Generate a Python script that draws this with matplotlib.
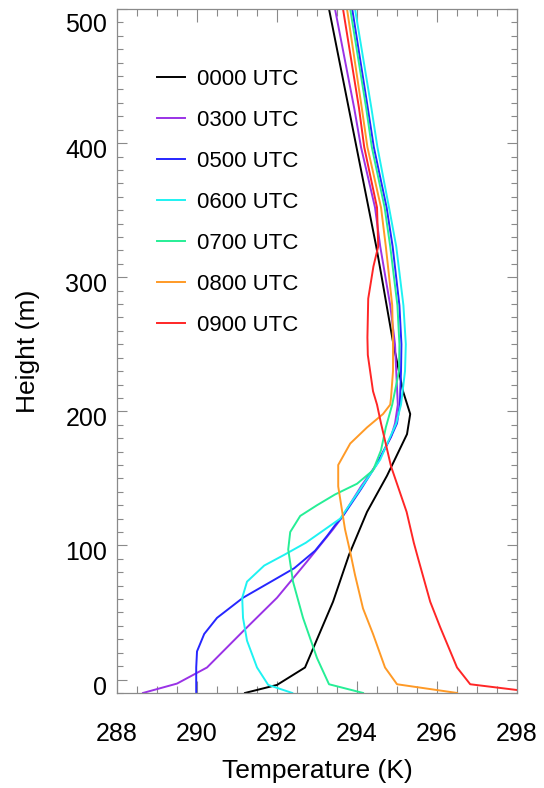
import matplotlib
matplotlib.use('Agg')
import matplotlib.pyplot as plt
import matplotlib.transforms as mtrans
from matplotlib.ticker import MultipleLocator

plt.rcParams['font.family'] = ['Liberation Sans', 'DejaVu Sans']

# temperature profiles (K) against height (m), one pair per launch time
z_0000 = [-10, -4, 9, 23, 58, 93, 125, 152, 183, 198, 215, 250, 279, 303, 323, 500]
t_0000 = [291.2, 292.0, 292.7, 292.9, 293.4, 293.8, 294.25, 294.75, 295.25, 295.33,
          295.15, 294.91, 294.74, 294.6, 294.48, 293.3]

z_0300 = [-10, -3, 9, 36, 61, 88, 112, 120, 144, 161, 181, 191, 205, 230, 250, 279,
          323, 352, 397, 426, 500]
t_0300 = [288.65, 289.5, 290.25, 291.15, 292.0, 292.75, 293.4, 293.6, 294.1, 294.5,
          294.85, 294.95, 295.02, 294.98, 294.95, 294.83, 294.58, 294.45, 294.1, 293.93,
          293.45]

z_0500 = [-10, 9, 21, 34, 46, 61, 73, 83, 96, 107, 115, 122, 142, 161, 181, 191, 205,
          230, 250, 279, 323, 352, 397, 426, 500]
t_0500 = [289.98, 289.98, 290.0, 290.18, 290.5, 291.15, 291.85, 292.43, 292.95, 293.25,
          293.45, 293.65, 294.1, 294.5, 294.85, 295.0, 295.07, 295.1, 295.11, 295.06,
          294.89, 294.74, 294.42, 294.27, 293.88]

z_0600 = [-10, -4, 9, 29, 46, 61, 73, 85, 93, 102, 120, 142, 164, 181, 191, 205, 230,
          250, 279, 323, 352, 397, 426, 500]
t_0600 = [292.38, 291.78, 291.5, 291.25, 291.15, 291.13, 291.25, 291.68, 292.18, 292.72,
          293.58, 294.08, 294.58, 294.83, 294.98, 295.1, 295.2, 295.22, 295.16, 294.98,
          294.8, 294.51, 294.36, 293.95]

z_0700 = [-10, -3.5, 16, 46, 73, 97, 110, 122, 130, 138, 146, 156, 171, 188, 205, 230,
          250, 279, 323, 352, 397, 426, 500]
t_0700 = [294.15, 293.3, 293.0, 292.65, 292.4, 292.28, 292.33, 292.58, 293.0, 293.45,
          294.0, 294.4, 294.6, 294.72, 294.88, 295.05, 295.06, 295.01, 294.83, 294.69,
          294.37, 294.23, 293.83]

z_0800 = [-10, -3.5, 9, 34, 53, 78, 95, 112, 144, 160, 176, 188, 198, 205, 210, 230,
          250, 279, 323, 352, 397, 426, 500]
t_0800 = [296.5, 295.0, 294.7, 294.4, 294.15, 293.95, 293.83, 293.7, 293.53, 293.53,
          293.83, 294.25, 294.65, 294.83, 294.85, 294.9, 294.9, 294.88, 294.72, 294.6,
          294.26, 294.12, 293.75]

z_0900 = [-10, -3.5, 9, 39, 58, 90, 102, 125, 159, 191, 205, 215, 242, 255, 284, 308,
          323, 352, 397, 426, 500]
t_0900 = [298.6, 296.83, 296.5, 296.08, 295.83, 295.53, 295.42, 295.24, 294.85, 294.6,
          294.5, 294.4, 294.27, 294.26, 294.28, 294.41, 294.53, 294.5, 294.18, 294.05,
          293.65]

labels = ['0000 UTC', '0300 UTC', '0500 UTC', '0600 UTC', '0700 UTC', '0800 UTC', '0900 UTC']
colors = ['#000000', '#9a32e6', '#2626ff', '#1ef2f2', '#26ee96', '#ff9a26', '#ff2626']
profiles = [(t_0000, z_0000), (t_0300, z_0300), (t_0500, z_0500), (t_0600, z_0600),
            (t_0700, z_0700), (t_0800, z_0800), (t_0900, z_0900)]

fig = plt.figure(figsize=(5.44, 7.88), dpi=100)
ax = fig.add_axes([0.2151, 0.1206, 0.7353, 0.8680])

for (t, z), c, lab in zip(profiles, colors, labels):
    ax.plot(t, z, color=c, lw=1.4, label=lab)

ax.set_xlim(288, 298)
ax.set_ylim(-10, 500)
ax.set_xticks([288, 290, 292, 294, 296, 298])
ax.set_yticks([0, 100, 200, 300, 400, 500], ['0', '100', '200', '300', '400', '500'])
ax.xaxis.set_minor_locator(MultipleLocator(0.5))
ax.yaxis.set_minor_locator(MultipleLocator(10))

grey = '#8a8a8a'
for s in ax.spines.values():
    s.set_color(grey)
    s.set_linewidth(0.9)
ax.tick_params(which='both', direction='in', top=True, right=True, color=grey, width=0.8)
ax.tick_params(axis='x', which='major', length=9, pad=21, labelsize=18)
ax.tick_params(axis='x', which='minor', length=5)
ax.tick_params(axis='y', which='major', length=7, pad=7, labelsize=18)
ax.tick_params(axis='y', which='minor', length=4.5)

# y labels sit a little below their ticks, the top one pulled inside
for lab in ax.get_yticklabels():
    dy = -13.5 if lab.get_text() == '500' else -5.5
    lab.set_transform(lab.get_transform() + mtrans.ScaledTranslation(0, dy / 100, fig.dpi_scale_trans))

ax.set_xlabel('Temperature (K)', fontsize=19, labelpad=9)
ax.set_ylabel('Height (m)', fontsize=19, labelpad=18)

ax.legend(loc='upper left', bbox_to_anchor=(0.1, 0.912), frameon=False, fontsize=16,
          handlelength=1.25, handletextpad=0.55, labelspacing=0.9,
          borderpad=0, borderaxespad=0)

fig.savefig('out.png', dpi=100)
